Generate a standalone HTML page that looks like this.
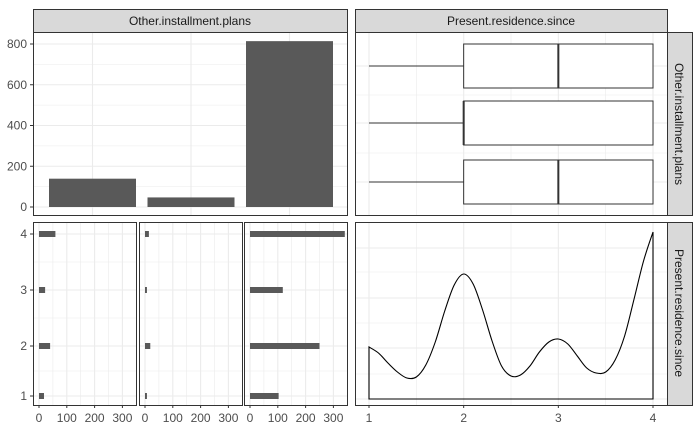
<!DOCTYPE html>
<html><head><meta charset="utf-8"><style>
body{margin:0;background:#fff;}
svg{display:block;font-family:"Liberation Sans",Arial,sans-serif;}
</style></head><body>
<svg id="c" width="700" height="432" viewBox="0 0 700 432"></svg>
<script>
const plans=["bank","stores","none"];
const planCounts=[139,47,814];
const topTicks=[0,200,400,600,800];
const boxMin=[1,1,1], boxQ1=[2,2,2], boxMed=[3,2,3], boxQ3=[4,4,4], boxMax=[4,4,4];
const resLevels=[1,2,3,4];
const countsBank=[18,40,22,59];
const countsStores=[7,19,7,14];
const countsNone=[103,250,118,341];
const barTicks=[0,100,200,300];
const densX=[1.0,1.1,1.2,1.3,1.4,1.5,1.6,1.7,1.8,1.9,2.0,2.1,2.2,2.3,2.4,2.5,2.6,2.7,2.8,2.9,3.0,3.1,3.2,3.3,3.4,3.5,3.6,3.7,3.8,3.9,4.0];
const densY=[52,46,36,27,21,22,34,57,88,114,125,115,89,58,33,23,24,33,47,57,60,55,43,31,26,27,39,63,100,138,167];

const svg=document.getElementById('c');const NS='http://www.w3.org/2000/svg';
function el(t,a,p){const e=document.createElementNS(NS,t);for(const k in a)e.setAttribute(k,a[k]);(p||svg).appendChild(e);return e;}
function txt(x,y,s,a,p){const e=el('text',Object.assign({x:x,y:y,'font-size':12,fill:'#4d4d4d'},a||{}),p);e.textContent=s;return e;}
const G='#ebebeb';

let s=el('rect',{x:33.5,y:9.5,width:314,height:23,fill:'#d9d9d9',stroke:'#333','stroke-width':1});

let t=txt(190,25,'Other.installment.plans',{'text-anchor':'middle',fill:'#1a1a1a'});

s=el('rect',{x:355.5,y:9.5,width:312,height:23,fill:'#d9d9d9',stroke:'#333'});

t=txt(511,25,'Present.residence.since',{'text-anchor':'middle',fill:'#1a1a1a'});

s=el('rect',{x:667.5,y:32.5,width:25,height:183,fill:'#d9d9d9',stroke:'#333'});

t=txt(0,0,'Other.installment.plans',{'text-anchor':'middle',fill:'#1a1a1a',transform:'translate(675,124) rotate(90)'});

s=el('rect',{x:667.5,y:222.5,width:25,height:183,fill:'#d9d9d9',stroke:'#333'});

t=txt(0,0,'Present.residence.since',{'text-anchor':'middle',fill:'#1a1a1a',transform:'translate(675,313) rotate(90)'});


const yTop=v=>207-v*(163/800);
const xCat=i=>49+i*98.5;
for(let v=100;v<=800;v+=200)el('line',{x1:33,x2:347,y1:yTop(v),y2:yTop(v),stroke:G,'stroke-width':0.6});
topTicks.forEach(v=>{el('line',{x1:33,x2:347,y1:yTop(v),y2:yTop(v),stroke:G,'stroke-width':1.1});
 el('line',{x1:30,x2:33,y1:yTop(v),y2:yTop(v),stroke:'#333'});
 let l=txt(27,yTop(v)+4,String(v),{'text-anchor':'end'});});
plans.forEach((p,i)=>{el('line',{x1:xCat(i)+43.5,x2:xCat(i)+43.5,y1:32,y2:215,stroke:G,'stroke-width':1.1});
 const b=el('rect',{x:xCat(i),y:yTop(planCounts[i]),width:87,height:yTop(0)-yTop(planCounts[i]),fill:'#595959'});
 });
let f=el('rect',{x:33.5,y:32.5,width:314,height:183,fill:'none',stroke:'#333'});


const xRes=v=>369+(v-1)*94.67;
const boxY=[66,123,182];
for(let v=1;v<=4;v+=0.5)el('line',{x1:xRes(v),x2:xRes(v),y1:32,y2:215,stroke:G,'stroke-width':v%1?0.6:1.1});
[95,153].forEach(y=>el('line',{x1:355,x2:667,y1:y,y2:y,stroke:G,'stroke-width':0.6}));
boxY.forEach(y=>el('line',{x1:355,x2:667,y1:y,y2:y,stroke:G,'stroke-width':1.1}));
plans.forEach((p,i)=>{const y=boxY[i];
 el('line',{x1:xRes(boxMin[i]),x2:xRes(boxQ1[i]),y1:y,y2:y,stroke:'#333'});
 el('line',{x1:xRes(boxQ3[i]),x2:xRes(boxMax[i]),y1:y,y2:y,stroke:'#333'});
 const b=el('rect',{x:xRes(boxQ1[i]),y:y-22,width:xRes(boxQ3[i])-xRes(boxQ1[i]),height:44,fill:'#fff',stroke:'#333'});
 
 el('line',{x1:xRes(boxMed[i]),x2:xRes(boxMed[i]),y1:y-22,y2:y+22,stroke:'#333','stroke-width':2});});
f=el('rect',{x:355.5,y:32.5,width:312,height:183,fill:'none',stroke:'#333'});


const yL=[396,346,290,234];
const subX=[33.5,139.5,244.5];
const allCounts=[countsBank,countsStores,countsNone];
plans.forEach((p,j)=>{const x0=subX[j]+5.5;const xs=v=>x0+v*0.278;const w=103;
 for(let v=50;v<=350;v+=100){if(xs(v)<subX[j]+w-1)el('line',{x1:xs(v),x2:xs(v),y1:222,y2:405,stroke:G,'stroke-width':0.6});}
 barTicks.forEach(v=>{el('line',{x1:xs(v),x2:xs(v),y1:222,y2:405,stroke:G,'stroke-width':1.1});
  el('line',{x1:xs(v),x2:xs(v),y1:405,y2:408,stroke:'#333'});
  let l=txt(xs(v),422,String(v),{'text-anchor':'middle'});});
 for(let k=0;k<3;k++){const ym=(yL[k]+yL[k+1])/2;el('line',{x1:subX[j],x2:subX[j]+w,y1:ym,y2:ym,stroke:G,'stroke-width':0.6});}
 resLevels.forEach((lv,i)=>{el('line',{x1:subX[j],x2:subX[j]+w,y1:yL[i],y2:yL[i],stroke:G,'stroke-width':1.1});
  const b=el('rect',{x:xs(0),y:yL[i]-3,width:allCounts[j][i]*0.278,height:6,fill:'#595959'});
  });
 f=el('rect',{x:subX[j],y:222.5,width:w,height:183,fill:'none',stroke:'#333'});
 });
resLevels.forEach((lv,i)=>{el('line',{x1:30,x2:33,y1:yL[i],y2:yL[i],stroke:'#333'});
 let l=txt(27,yL[i]+4,String(lv),{'text-anchor':'end'});});

const yD=v=>399-v;
[248,272,298,323,348,374,399].forEach((y,k)=>el('line',{x1:355,x2:667,y1:y,y2:y,stroke:G,'stroke-width':k%2?0.6:1.1}));
for(let v=1;v<=4;v+=0.5)el('line',{x1:xRes(v),x2:xRes(v),y1:222,y2:405,stroke:G,'stroke-width':v%1?0.6:1.1});
let pts=densX.map((x,i)=>[xRes(x),yD(densY[i])]);
let d='M'+xRes(densX[0])+','+yD(0)+' L'+pts[0][0]+','+pts[0][1];
for(let i=0;i<pts.length-1;i++){const p0=pts[Math.max(0,i-1)],p1=pts[i],p2=pts[i+1],p3=pts[Math.min(pts.length-1,i+2)];
 d+=' C'+(p1[0]+(p2[0]-p0[0])/6)+','+(p1[1]+(p2[1]-p0[1])/6)+' '+(p2[0]-(p3[0]-p1[0])/6)+','+(p2[1]-(p3[1]-p1[1])/6)+' '+p2[0]+','+p2[1];}
d+=' L'+xRes(densX[densX.length-1])+','+yD(0)+' Z';
const dp=el('path',{d:d,fill:'none',stroke:'#000','stroke-width':1.1});

resLevels.forEach(v=>{el('line',{x1:xRes(v),x2:xRes(v),y1:405,y2:408,stroke:'#333'});
 let l=txt(xRes(v),422,String(v),{'text-anchor':'middle'});});
f=el('rect',{x:355.5,y:222.5,width:312,height:183,fill:'none',stroke:'#333'});

</script>
</body></html>
